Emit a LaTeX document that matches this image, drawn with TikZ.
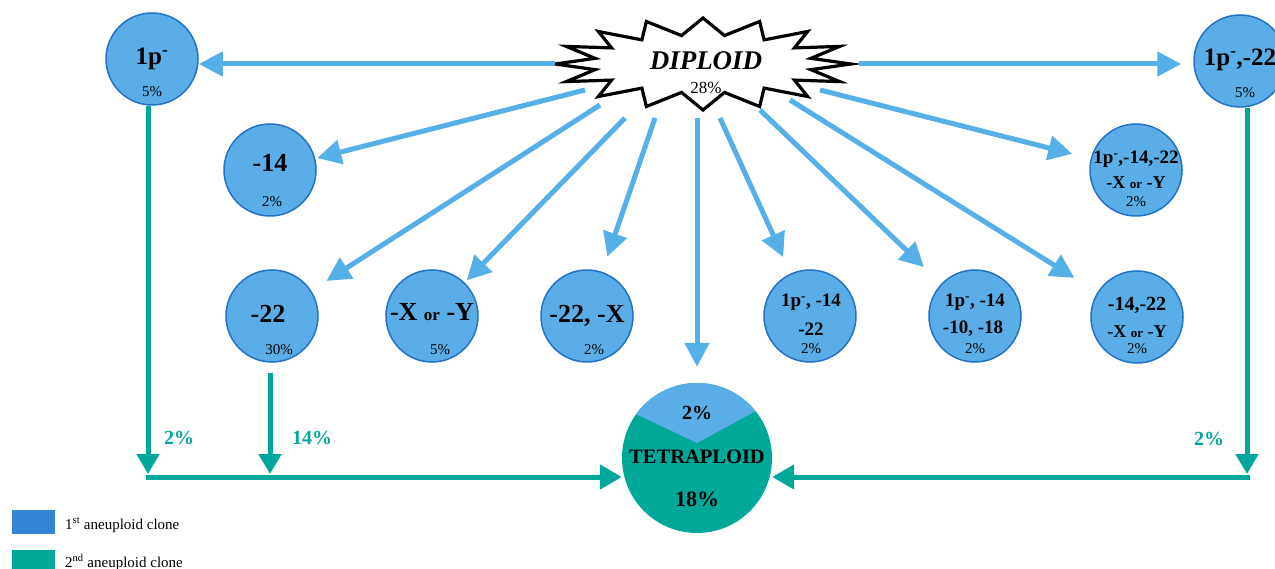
\documentclass[tikz,border=0pt]{standalone}
\usepackage{fontspec}
\setmainfont{Liberation Serif}
\usetikzlibrary{arrows.meta,shapes.geometric,calc}
\definecolor{cfill}{HTML}{5AADE6}
\definecolor{cedge}{HTML}{2272C8}
\definecolor{barr}{HTML}{55B0E8}
\definecolor{tealc}{HTML}{00A89A}
\definecolor{legblue}{HTML}{3385D6}
\begin{document}
\begin{tikzpicture}[x=1pt,y=-1pt,
  clone/.style={circle, fill=cfill, draw=cedge, line width=1.5pt, minimum size=92pt, inner sep=0pt},
  barrow/.style={draw=barr, line width=5pt, -{Triangle[length=24pt,width=24pt]}},
  tarrow/.style={draw=tealc, line width=5pt, -{Triangle[length=20pt,width=22pt]}},
  big/.style={font=\fontsize{26}{26}\selectfont\bfseries, inner sep=0pt, anchor=base},
  mid/.style={font=\fontsize{19}{19}\selectfont\bfseries, inner sep=0pt, anchor=base},
  pct/.style={font=\fontsize{15}{15}\selectfont, inner sep=0pt, anchor=base},
  tlab/.style={font=\fontsize{20}{20}\selectfont\bfseries, text=tealc, inner sep=0pt, anchor=base},
  leg/.style={font=\fontsize{15}{15}\selectfont, inner sep=0pt, anchor=base west},
]
\useasboundingbox (0,0) rectangle (1275,569);

% diploid star
\node[ellipse, minimum width=296pt, minimum height=92pt, inner sep=0pt] (dip) at (703,64) {};
\filldraw[fill=white, draw=black, line width=3.2pt, line join=miter]
  plot[samples at={0,...,31}] ({703+(mod(\x,2)==0 ? 148 : 110)*cos(\x*11.25)}, {64-(mod(\x,2)==0 ? 46 : 29)*sin(\x*11.25)}) -- cycle;
\node[font=\fontsize{27}{27}\selectfont\bfseries\itshape, inner sep=0pt, anchor=base] (diptxt) at (706,70) {DIPLOID};
\node[font=\fontsize{17}{17}\selectfont, inner sep=0pt, anchor=base] (dippct) at (706,94) {28\%};

% clone circles
\node[clone] (c1p) at (152,59) {};
\node[clone] (c1p22) at (1240,61) {};
\node[clone] (c14) at (270,170) {};
\node[clone] (cX4) at (1136,170) {};
\node[clone] (c22) at (272,316) {};
\node[clone] (cXY) at (432,316) {};
\node[clone] (c22X) at (587,316) {};
\node[clone] (c114) at (810,316) {};
\node[clone] (c1018) at (975,316) {};
\node[clone] (c1422) at (1137,317) {};

% texts
\node[big, font=\fontsize{25}{25}\selectfont\bfseries] (c1pa) at (152,65) {1p\textsuperscript{-}};
\node[pct] (c1pb) at (152,97) {5\%};
\node[big, font=\fontsize{25}{25}\selectfont\bfseries] (c1p22a) at (1240,66) {1p\textsuperscript{-},-22};
\node[pct] (c1p22b) at (1245,98) {5\%};
\node[big] (c14a) at (270,172) {-14};
\node[pct] (c14b) at (272,207) {2\%};
\node[mid] (cX4a) at (1136,164) {1p\textsuperscript{-},-14,-22};
\node[mid, font=\fontsize{18}{18}\selectfont\bfseries] (cX4b) at (1136,189) {-X {\fontsize{13}{13}\selectfont or} -Y};
\node[pct] (cX4c) at (1136,207) {2\%};
\node[big] (c22a) at (268,323) {-22};
\node[pct] (c22b) at (279,355) {30\%};
\node[big] (cXYa) at (432,321) {-X {\fontsize{17}{17}\selectfont or} -Y};
\node[pct] (cXYb) at (440,355) {5\%};
\node[big] (c22Xa) at (587,323) {-22, -X};
\node[pct] (c22Xb) at (594,355) {2\%};
\node[mid] (c114a) at (811,307) {1p\textsuperscript{-}, -14};
\node[mid] (c114b) at (811,336) {-22};
\node[pct] (c114c) at (811,354) {2\%};
\node[mid] (c1018a) at (975,307) {1p\textsuperscript{-}, -14};
\node[mid] (c1018b) at (973,334) {-10, -18};
\node[pct] (c1018c) at (975,354) {2\%};
\node[mid, font=\fontsize{20}{20}\selectfont\bfseries] (c1422a) at (1137,311) {-14,-22};
\node[mid, font=\fontsize{18}{18}\selectfont\bfseries] (c1422b) at (1137,338) {-X {\fontsize{13}{13}\selectfont or} -Y};
\node[pct] (c1422c) at (1137,354) {2\%};

% tetraploid
\node[circle, fill=tealc, minimum size=150pt, inner sep=0pt] (tetra) at (697,458) {};
\begin{scope}
  \clip (tetra.center) circle (75pt);
  \fill[cfill] (600,397) -- (697,443) -- (800,387) -- (800,370) -- (600,370) -- cycle;
\end{scope}
\node[font=\fontsize{20}{20}\selectfont\bfseries, inner sep=0pt, anchor=base] (tetra2) at (697,419) {2\%};
\node[font=\fontsize{20.5}{20.5}\selectfont\bfseries, inner sep=0pt, anchor=base] (tetratxt) at (697,463) {TETRAPLOID};
\node[font=\fontsize{22}{22}\selectfont\bfseries, inner sep=0pt, anchor=base] (tetra18) at (697,506) {18\%};

% tails of blue arrows
\coordinate (t14) at (585,90);
\coordinate (t22) at (600,105);
\coordinate (tXY) at (625,118);
\coordinate (t22X) at (655,118);
\coordinate (tT) at (697,118);
\coordinate (t114) at (720,118);
\coordinate (t1018) at (760,110);
\coordinate (t1422) at (790,100);
\coordinate (tX4) at (820,90);

\draw[barrow] (dip.west) -- (dip.west -| c1p.east);
\draw[barrow, shorten <=8pt, shorten >=12pt] (dip.east) -- (dip.east -| c1p22.west);
\draw[barrow, shorten >=2pt] (t14) -- (c14);
\draw[barrow, shorten >=18pt] (t22) -- (c22);
\draw[barrow, shorten >=3pt] (tXY) -- (cXY);
\draw[barrow, shorten >=16pt] (t22X) -- (c22X);
\draw[barrow, shorten >=16pt] (tT) -- (tetra);
\draw[barrow, shorten >=18pt] (t114) -- (c114);
\draw[barrow, shorten >=24pt] (t1018) -- (c1018);
\draw[barrow, shorten >=27pt] (t1422) -- (c1422);
\draw[barrow, shorten >=19pt] (tX4) -- (cX4);

% teal arrows
\coordinate (jl1) at (148,477);
\coordinate (jl2) at (270,477);
\coordinate (jr) at (1247,477);
\draw[tarrow, shorten >=3pt] (c1p.south -| jl1) -- (jl1);
\draw[tarrow, shorten >=3pt] ([yshift=-10pt]c22.south -| jl2) -- (jl2);
\draw[tarrow, shorten >=3pt] (c1p22.south -| jr) -- (jr);
\draw[tarrow, -{Triangle[length=22pt,width=24pt]}, shorten <=-2.5pt] (jl1) -- (jl1 -| tetra.west);
\draw[tarrow, -{Triangle[length=22pt,width=24pt]}, shorten <=-2.5pt] (jr) -- (jr -| tetra.east);
\node[tlab] (l1) at (179,444) {2\%};
\node[tlab] (l2) at (312,444) {14\%};
\node[tlab] (l3) at (1209,445) {2\%};

% legend
\fill[legblue] (12,510) rectangle (55,534);
\fill[tealc] (12,550) rectangle (55,575);
\node[leg] (leg1) at (65,529) {1\textsuperscript{st} aneuploid clone};
\node[leg] (leg2) at (65,567) {2\textsuperscript{nd} aneuploid clone};
\end{tikzpicture}
\end{document}
